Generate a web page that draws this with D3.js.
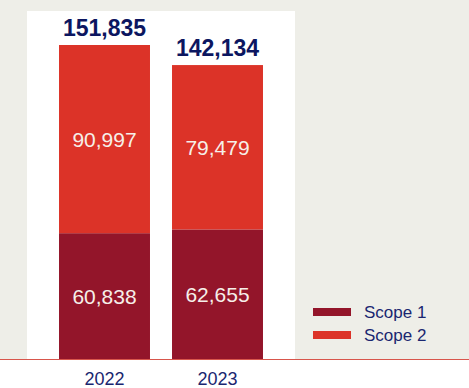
<!DOCTYPE html>
<html>
<head>
<meta charset="utf-8">
<script src="https://cdn.jsdelivr.net/npm/d3@7"></script>
<style>
  html, body { margin: 0; padding: 0; background: #ffffff; }
  svg { display: block; font-family: "Liberation Sans", Arial, sans-serif; }
</style>
</head>
<body>
<svg id="chart" width="469" height="388"></svg>
<script>
// Emissions by year, split by scope
const years = ["2022", "2023"];
const scope1 = [60838, 62655];
const scope2 = [90997, 79479];
const seriesNames = ["Scope 1", "Scope 2"];
const seriesColors = ["#93152a", "#dc3328"];

const totals = years.map((_, i) => scope1[i] + scope2[i]);

const W = 469, H = 388;
const baseY = 359;

const svg = d3.select("#chart");

// page backdrop and white plot panel
svg.append("rect").attr("x", 0).attr("y", 0).attr("width", W).attr("height", baseY).attr("fill", "#eeeee8");
svg.append("rect").attr("x", 27).attr("y", 11).attr("width", 268).attr("height", baseY - 11).attr("fill", "#ffffff");

const x = d3.scaleBand()
  .domain(years)
  .range([48, 274])
  .paddingInner(0.195)
  .paddingOuter(0.0975);

const y = d3.scaleLinear()
  .domain([0, d3.max(totals)])
  .range([baseY, 45]);

const fmt = d3.format(",");

const rows = years.map((yr, i) => ({ year: yr, s1: scope1[i], s2: scope2[i] }));
const stacked = d3.stack().keys(["s1", "s2"])(rows);

const layers = svg.append("g").selectAll("g")
  .data(stacked)
  .join("g")
  .attr("fill", (d, i) => seriesColors[i]);

layers.selectAll("rect")
  .data(d => d)
  .join("rect")
  .attr("x", d => x(d.data.year))
  .attr("width", x.bandwidth())
  .attr("y", d => y(d[1]))
  .attr("height", d => y(d[0]) - y(d[1]));

// segment value labels
layers.selectAll("text")
  .data(d => d)
  .join("text")
  .attr("x", d => x(d.data.year) + x.bandwidth() / 2)
  .attr("y", d => (y(d[0]) + y(d[1])) / 2)
  .attr("dy", "0.36em")
  .attr("text-anchor", "middle")
  .attr("fill", "#f6efe9")
  .attr("font-size", 21)
  .text(d => fmt(d[1] - d[0]));

// totals above each bar
svg.append("g").selectAll("text")
  .data(years)
  .join("text")
  .attr("x", d => x(d) + x.bandwidth() / 2)
  .attr("y", (d, i) => y(totals[i]) - 9)
  .attr("text-anchor", "middle")
  .attr("fill", "#0c1660")
  .attr("font-size", 23)
  .attr("font-weight", "bold")
  .text((d, i) => fmt(totals[i]));

// baseline
svg.append("line")
  .attr("x1", 0).attr("x2", W)
  .attr("y1", baseY + 0.5).attr("y2", baseY + 0.5)
  .attr("stroke", "#d8564c")
  .attr("stroke-width", 1.2);

// year labels
const xAxis = d3.axisBottom(x).tickSize(0).tickPadding(0);
const gx = svg.append("g").attr("transform", `translate(0,${baseY})`).call(xAxis);
gx.select(".domain").remove();
gx.selectAll("text")
  .attr("y", 26)
  .attr("dy", 0)
  .attr("fill", "#1a2670")
  .attr("font-size", 18)
  .attr("font-family", "'Liberation Sans', Arial, sans-serif");

// legend
const legend = svg.append("g").selectAll("g")
  .data(seriesNames)
  .join("g")
  .attr("transform", (d, i) => `translate(313,${308 + i * 23})`);
legend.append("rect")
  .attr("width", 38).attr("height", 8)
  .attr("fill", (d, i) => seriesColors[i]);
legend.append("text")
  .attr("x", 51).attr("y", 4)
  .attr("dy", "0.36em")
  .attr("fill", "#1a2670")
  .attr("font-size", 17)
  .text(d => d);
</script>
</body>
</html>
